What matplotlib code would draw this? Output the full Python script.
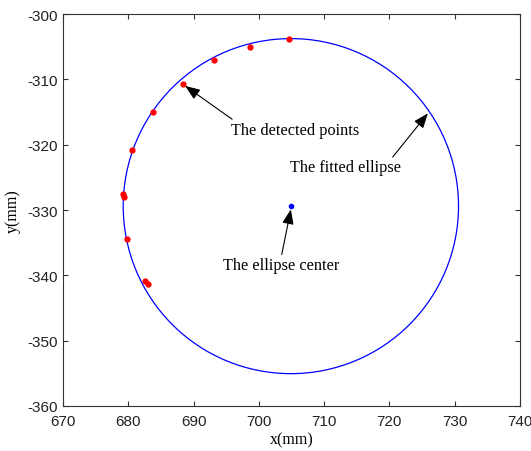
import matplotlib.pyplot as plt
from matplotlib.patches import Ellipse

# === DATA ===
points_x = [704.6, 698.6, 693.1, 688.3, 683.8, 680.6, 679.2, 679.3, 679.8, 682.6, 683.0]
points_y = [-303.8, -305.0, -307.0, -310.7, -315.0, -320.8, -327.5, -328.0, -334.4, -340.9, -341.3]
center = (704.9, -329.4)
axis_x = 51.4   # full width of the fitted ellipse
axis_y = 51.3   # full height

notes = ["The detected points", "The fitted ellipse", "The ellipse center"]
note_xy = [(688.7, -311.0), (725.9, -315.2), (704.9, -329.9)]
note_text_xy = [(705.5, -317.8), (713.2, -323.4), (703.4, -338.4)]
arrow_tail = [(695.9, -316.1), (720.5, -321.9), (703.5, -336.8)]

plt.rcParams['font.family'] = ['Liberation Sans', 'DejaVu Sans']
plt.rcParams['axes.unicode_minus'] = False

fig = plt.figure(figsize=(5.31, 4.52), dpi=100)
ax = fig.add_axes([0.119, 0.0996, 0.860, 0.867])

ax.add_patch(Ellipse(center, axis_x, axis_y, fill=False, color='blue', lw=0.9))
ax.plot(points_x, points_y, 'o', color='red', ms=3.5, mec='red')
ax.plot(*center, 'o', color='blue', ms=3)

for txt, xy, txy, tail in zip(notes, note_xy, note_text_xy, arrow_tail):
    ax.text(txy[0], txy[1], txt, ha='center', va='center',
            family='Liberation Serif', fontsize=11.7)
    ax.annotate('', xy=xy, xytext=tail,
                arrowprops=dict(arrowstyle='-|>,head_length=0.9,head_width=0.35',
                                color='black', lw=0.8, shrinkA=0, shrinkB=0))

ax.set_xlim(670, 740)
ax.set_ylim(-360, -300)
ax.set_xticks(range(670, 741, 10))
ax.set_yticks(range(-360, -299, 10))
ax.tick_params(direction='in', top=True, right=True, labelsize=11, length=3.5,
               color='#333333', labelcolor='#222222')
ax.tick_params(axis='x', pad=6)
for s in ax.spines.values():
    s.set_color('#333333')
ax.set_xlabel('x(mm)', family='Liberation Serif', fontsize=11.5, labelpad=2)
ax.set_ylabel('y(mm)', family='Liberation Serif', fontsize=11.5, labelpad=5)

fig.savefig('out.png', dpi=100)
